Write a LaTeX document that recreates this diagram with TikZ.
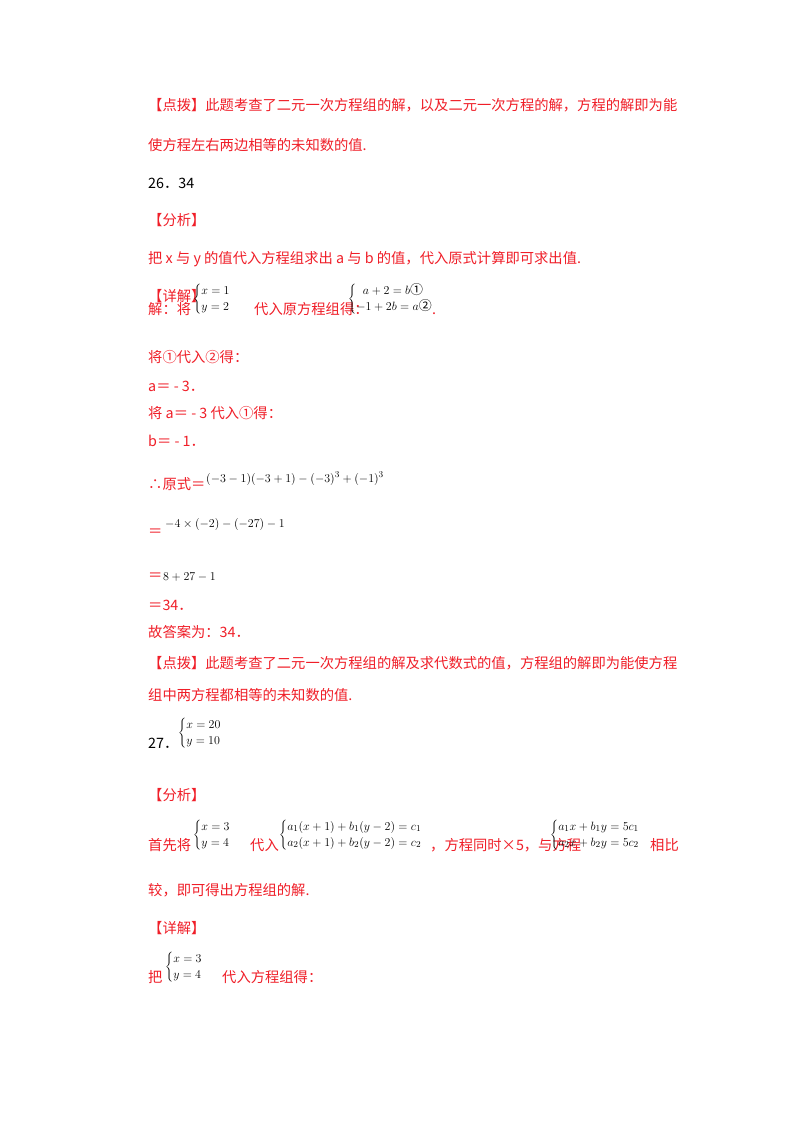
\documentclass[tikz,border=0pt]{standalone}
\usepackage{fontspec}
\setmainfont{Liberation Serif}
\newfontfamily\cjk{Noto Sans CJK SC}
\definecolor{rd}{RGB}{240,30,40}
\newcommand{\sysm}[2]{$\left\{\begin{array}{@{}l@{}}#1\\[1pt] #2\end{array}\right.$}
\begin{document}
\begin{tikzpicture}[x=1pt,y=-1pt,
  t/.style={anchor=base west,inner sep=0pt,text=rd,font=\fontsize{14.3}{16}\selectfont\cjk},
  m/.style={anchor=west,inner sep=0pt,text=black,font=\fontsize{13}{15}\selectfont}]
\useasboundingbox (0,0) rectangle (800,1132);
\fill[white] (0,0) rectangle (800,1132);
\node[t] (l1) at (148,110) {【点拨】此题考查了二元一次方程组的解，以及二元一次方程的解，方程的解即为能};
\node[t] (l2) at (148,150) {使方程左右两边相等的未知数的值.};
\node[t,text=black] (l3) at (148,188) {26．34};
\node[t] (l4) at (148,225) {【分析】};
\node[t] (l5) at (148,263) {把 \textit{x} 与 \textit{y} 的值代入方程组求出 \textit{a} 与 \textit{b} 的值，代入原式计算即可求出值.};
\node[t] (l6) at (148,301) {【详解】};
\node[t] (l7) at (148,314) {解：将};
\node[m] (s1) at (193,299) {\sysm{x=1}{y=2}};
\node[t] (l7b) at (254,314) {代入原方程组得：};
\node[m] (s2) at (348,299) {\sysm{\;\;a+2=b\mbox{\cjk ①}}{-1+2b=a\mbox{\cjk ②}}};
\node[t] (l7c) at (432,314) {.};
\node[t] (l8) at (148,362) {将①代入②得：};
\node[t] (l9) at (148,391) {\textit{a}＝ - 3．};
\node[t] (l10) at (148,418) {将 \textit{a}＝ - 3 代入①得：};
\node[t] (l11) at (148,446) {\textit{b}＝ - 1．};
\node[t] (l12) at (148,489) {∴原式＝};
\node[m,anchor=base west] (e1) at (206,482) {$(-3-1)(-3+1)-(-3)^3+(-1)^3$};
\node[t] (l13) at (148,536) {＝};
\node[m,anchor=base west] (e2) at (165,527) {$-4\times(-2)-(-27)-1$};
\node[t] (l14) at (148,580) {＝};
\node[m,anchor=base west] (e3) at (163,580) {$8+27-1$};
\node[t] (l15) at (148,610) {＝34．};
\node[t] (l16) at (148,637) {故答案为：34．};
\node[t] (l17) at (148,668) {【点拨】此题考查了二元一次方程组的解及求代数式的值，方程组的解即为能使方程};
\node[t] (l18) at (148,700) {组中两方程都相等的未知数的值.};
\node[t,text=black] (l19) at (148,748) {27．};
\node[m] (s3) at (178,733) {\sysm{x=20}{y=10}};
\node[t] (l20) at (148,800) {【分析】};
\node[t] (l21) at (148,850) {首先将};
\node[m] (s4) at (193,835) {\sysm{x=3}{y=4}};
\node[t] (l21b) at (250,850) {代入};
\node[m] (s5) at (279,835) {\sysm{a_1(x+1)+b_1(y-2)=c_1}{a_2(x+1)+b_2(y-2)=c_2}};
\node[t] (l21c) at (430,850) {，方程同时×5，与方程};
\node[m] (s6) at (550,835) {\sysm{a_1x+b_1y=5c_1}{a_2x+b_2y=5c_2}};
\node[t] (l21d) at (650,850) {相比};
\node[t] (l22) at (148,895) {较，即可得出方程组的解.};
\node[t] (l23) at (148,933) {【详解】};
\node[t] (l24) at (148,982) {把};
\node[m] (s7) at (165,967) {\sysm{x=3}{y=4}};
\node[t] (l24b) at (222,982) {代入方程组得：};
\end{tikzpicture}
\end{document}
